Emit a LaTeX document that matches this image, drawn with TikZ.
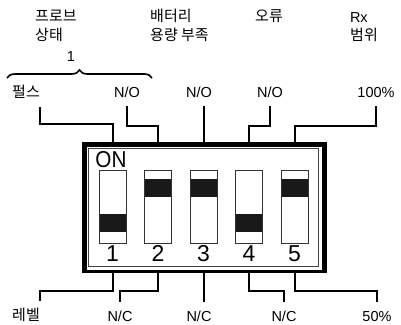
\documentclass[tikz,border=0pt]{standalone}
\usepackage{fontspec}
\setmainfont{Liberation Sans}
\newfontfamily\kr{Noto Sans CJK KR}
\usetikzlibrary{decorations.pathreplacing}
\begin{document}
\begin{tikzpicture}[x=1pt,y=-1pt,line join=miter,
	lead/.style={line width=2pt},
	switchbox/.style={draw=black!80,line width=1pt,fill=white,minimum width=27pt,minimum height=73pt,inner sep=0pt},
	lbl/.style={font=\fontsize{14.5}{16}\selectfont,inner sep=0pt,outer sep=0pt,outer ysep=9pt,text height=10pt,text depth=0pt},
	kor/.style={font=\kr\fontsize{15}{17}\selectfont,inner sep=0pt},
	num/.style={font=\fontsize{23}{25}\selectfont,inner sep=0pt}]
	\useasboundingbox (0,0) rectangle (401,324);
	%Tieu de phia tren
	\node[kor,anchor=base west] (h1a) at (35,21) {프로브};
	\node[kor,anchor=base west] (h1b) at (35,40) {상태};
	\node[kor,anchor=base west] (h2a) at (150,21) {배터리};
	\node[kor,anchor=base west] (h2b) at (150,40) {용량 부족};
	\node[kor,anchor=base west] (h4a) at (255,21) {오류};
	\node[lbl,anchor=base west] (h5a) at (350,22) {Rx};
	\node[kor,anchor=base west] (h5b) at (350,40) {범위};
	%Ngoac nhom 1
	\coordinate (bl) at (7,78);
	\coordinate (br) at (152,78);
	\draw[line width=1.6pt,decorate,decoration={brace,amplitude=8pt}] (bl)--(br);
	\node[font=\fontsize{14.5}{16}\selectfont,inner sep=0pt] (grp) at (71,57) {1};
	%Vo hop cong tac
	\fill (82,142) rectangle (327,273);
	\fill[white] (87,147) rectangle (322,270);
	\draw[black!75,line width=1.4pt] (88.5,148.5) rectangle (318.5,266.5);
	\coordinate (boxtop) at (0,142);
	\coordinate (boxbot) at (0,273);
	\node[font=\fontsize{23}{25}\selectfont,xscale=0.9,inner sep=0pt] (on) at (111,160) {ON};
	%Cac cong tac
	\foreach \i/\x/\bt in {1/112.5/214,2/158/179,3/203.5/179,4/249/214,5/294.5/179}{
		\node[switchbox] (s\i) at (\x,206.5) {};
		\fill[black!90] ({\x-13},\bt) rectangle ({\x+13},{\bt+18});
		\node[num] (n\i) at (\x,253.5) {\i};
	}
	%Nhan tren va duoi
	\node[kor,anchor=base east,outer ysep=9pt] (t1) at (40,97) {펄스};
	\node[lbl,anchor=base] (t2) at (127,97) {N/O};
	\node[lbl,anchor=base] (t3) at (199,97) {N/O};
	\node[lbl,anchor=base] (t4) at (270,97) {N/O};
	\node[lbl,anchor=base] (t5) at (376,97) {100\%};
	\node[kor,anchor=base east,outer ysep=9pt,text height=10pt] (b1) at (40,320) {레벨};
	\node[lbl,anchor=base] (b2) at (120,321) {N/C};
	\node[lbl,anchor=base] (b3) at (199,321) {N/C};
	\node[lbl,anchor=base] (b4) at (284,321) {N/C};
	\node[lbl,anchor=base] (b5) at (377,321) {50\%};
	%Day noi
	\draw[lead] (s1 |- boxtop)--++(0,-18) -| (t1.south east);
	\draw[lead] (s2 |- boxtop)--++(0,-16) -| (t2.south);
	\draw[lead] (s3 |- boxtop)--(s3 |- t3.south);
	\draw[lead] (s4 |- boxtop)--++(0,-16) -| (t4.south);
	\draw[lead] (s5 |- boxtop)--++(0,-16) -| (t5.south);
	\draw[lead] (s1 |- boxbot)--++(0,18) -| (b1.north east);
	\draw[lead] (s2 |- boxbot)--++(0,18) -| (b2.north);
	\draw[lead] (s3 |- boxbot)--(s3 |- b3.north);
	\draw[lead] (s4 |- boxbot)--++(0,18) -| (b4.north);
	\draw[lead] (s5 |- boxbot)--++(0,18) -| (b5.north);
\end{tikzpicture}
\end{document}
